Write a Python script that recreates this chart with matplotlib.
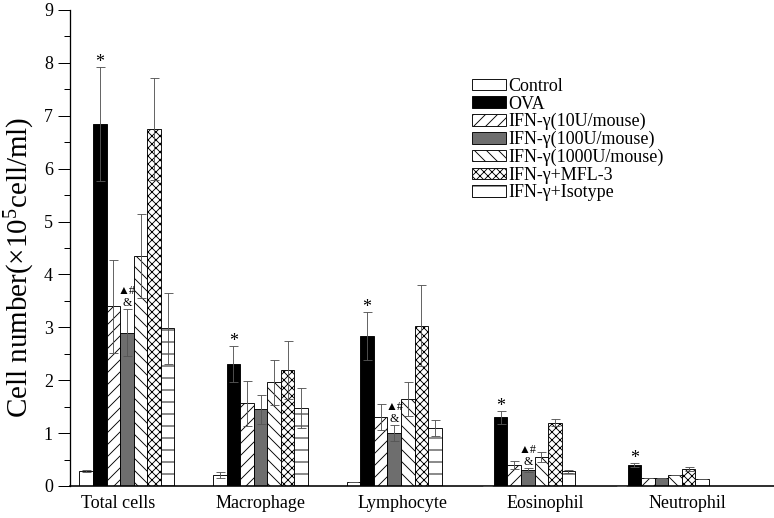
import matplotlib
matplotlib.use("Agg")
import matplotlib.pyplot as plt
import numpy as np

# cell counts (x10^5 cell/ml)
groups = ["Total cells", "Macrophage", "Lymphocyte", "Eosinophil", "Neutrophil"]
series = ["Control", "OVA", "IFN-γ(10U/mouse)", "IFN-γ(100U/mouse)",
          "IFN-γ(1000U/mouse)", "IFN-γ+MFL-3", "IFN-γ+Isotype"]

control      = [0.28, 0.21, 0.07, 0.00, 0.00]
control_err  = [0.02, 0.06, 0.00, 0.00, 0.00]
ova          = [6.84, 2.30, 2.84, 1.30, 0.40]
ova_err      = [1.08, 0.34, 0.45, 0.12, 0.04]
ifn10        = [3.40, 1.56, 1.30, 0.40, 0.15]
ifn10_err    = [0.88, 0.42, 0.25, 0.07, 0.00]
ifn100       = [2.90, 1.45, 1.00, 0.30, 0.15]
ifn100_err   = [0.45, 0.28, 0.15, 0.04, 0.00]
ifn1000      = [4.35, 1.96, 1.64, 0.55, 0.21]
ifn1000_err  = [0.79, 0.43, 0.32, 0.09, 0.00]
mfl3         = [6.75, 2.20, 3.03, 1.20, 0.32]
mfl3_err     = [0.97, 0.55, 0.77, 0.07, 0.04]
isotype      = [2.98, 1.47, 1.10, 0.28, 0.14]
isotype_err  = [0.67, 0.38, 0.15, 0.03, 0.00]

# significance marks: * on OVA for every group, ▲#/& on 100U for these
star_groups = [0, 1, 2, 3, 4]
mark_groups = [0, 2, 3]

values = [control, ova, ifn10, ifn100, ifn1000, mfl3, isotype]
errors = [control_err, ova_err, ifn10_err, ifn100_err, ifn1000_err, mfl3_err, isotype_err]
faces = ["white", "black", "white", "#6e6e6e", "white", "white", "white"]
hatches = [None, None, "//", None, "\\\\", "xxx", "-"]

plt.rcParams["font.family"] = ["Liberation Serif", "DejaVu Sans"]
plt.rcParams["mathtext.fontset"] = "custom"
plt.rcParams["mathtext.rm"] = "Liberation Serif"
plt.rcParams["mathtext.default"] = "regular"
plt.rcParams["hatch.linewidth"] = 0.9

fig = plt.figure(figsize=(774 / 72, 518 / 72), dpi=72)
ax = fig.add_axes([70 / 774, 32 / 518, 704 / 774, 476 / 518])

gap = 9.85
width = 1.0
xg = np.arange(len(groups)) * gap
for j in range(len(series)):
    xs = xg + (j - 3) * width
    ax.bar(xs, values[j], width, color=faces[j], edgecolor="black",
           linewidth=0.9, hatch=hatches[j], label=series[j], zorder=2)
for j in range(len(series)):
    xs = xg + (j - 3) * width
    ax.errorbar(xs, values[j], yerr=errors[j], fmt="none", ecolor="#555555",
                elinewidth=0.9, capsize=4.5, capthick=0.9, zorder=3)

for g in star_groups:
    top = ova[g] + ova_err[g]
    ax.annotate("*", (xg[g] - 2 * width, top), xytext=(0, 0),
                textcoords="offset points", ha="center", va="baseline", fontsize=18)
for g in mark_groups:
    top = ifn100[g] + ifn100_err[g]
    ax.annotate("&", (xg[g], top), xytext=(0, 3), textcoords="offset points",
                ha="center", va="baseline", fontsize=12)
    ax.annotate("▲#", (xg[g], top), xytext=(0, 15), textcoords="offset points",
                ha="center", va="baseline", fontsize=12)

ax.set_xlim(-4.2, 47.7)
ax.set_ylim(0, 9)
ax.set_yticks(range(10))
ax.set_yticks(np.arange(0.5, 9, 1), minor=True)
ax.tick_params(axis="y", which="major", length=12, width=1, pad=5, labelsize=18)
ax.tick_params(axis="y", which="minor", length=6, width=1)
ax.set_xticks(np.arange(len(groups)) * 10.5 - 0.66)
ax.set_xticklabels(groups)
ax.tick_params(axis="x", length=0, pad=9, labelsize=18)

ax.spines["top"].set_visible(False)
ax.spines["right"].set_visible(False)
ax.spines["left"].set_linewidth(1.3)
ax.spines["bottom"].set_linewidth(1.6)

ax.set_ylabel("Cell number(×10$^{5}$cell/ml)", fontsize=29)
ax.yaxis.set_label_coords(-0.047, 0.46)

leg = ax.legend(loc="upper left", bbox_to_anchor=(472 / 774, 1 - 78 / 518),
                bbox_transform=fig.transFigure, frameon=False, fontsize=18,
                handlelength=1.9, handleheight=0.6, handletextpad=0.1,
                labelspacing=0.03, borderpad=0, borderaxespad=0)

fig.savefig("out.png", dpi=72)
